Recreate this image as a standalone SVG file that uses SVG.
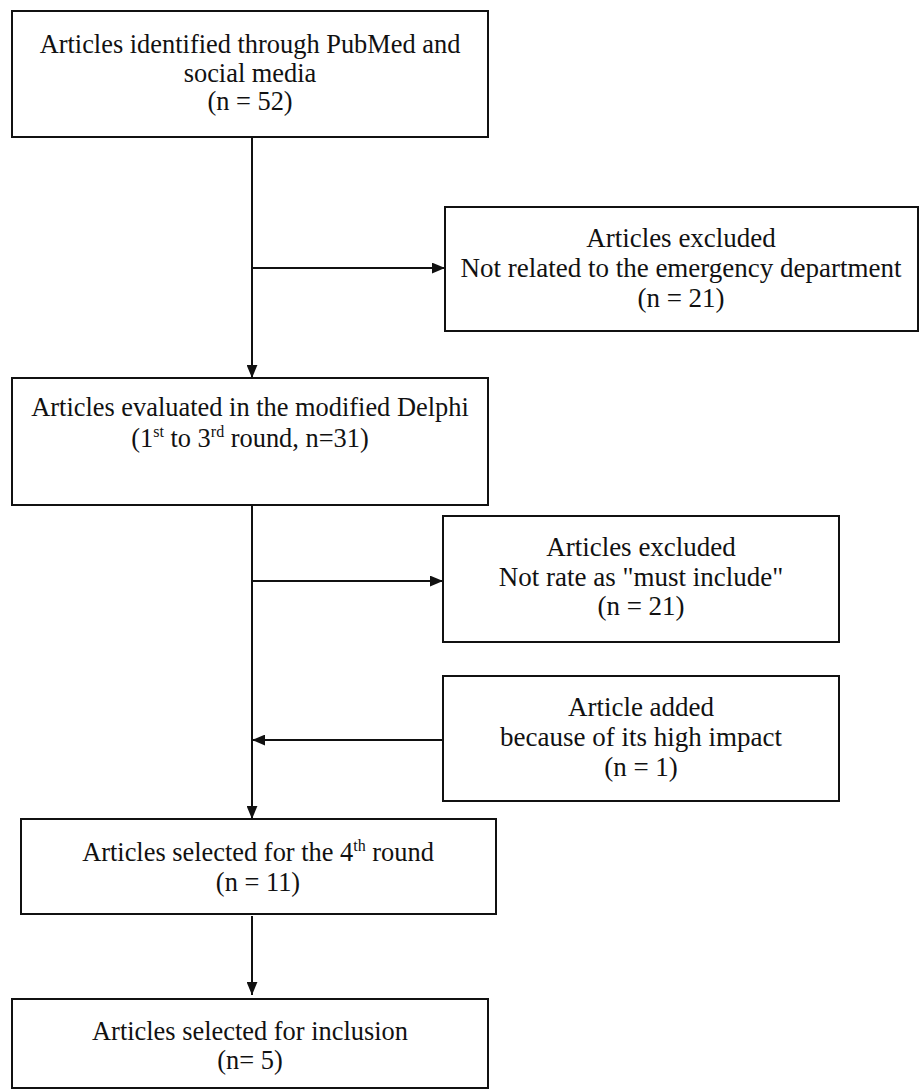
<svg xmlns="http://www.w3.org/2000/svg" width="919" height="1090" viewBox="0 0 919 1090">
<style>
.box{fill:#fff;stroke:#111;stroke-width:2}
.t{font-family:"Liberation Serif","Times New Roman",serif;font-size:27px;fill:#111;text-anchor:middle}
.l{font-size:26.4px}
.c{stroke:#111;stroke-width:2;fill:none}
.sup{font-size:16px}
</style>
<defs>
<marker id="ah" viewBox="0 0 12 10" refX="12" refY="5" markerWidth="13" markerHeight="11" markerUnits="userSpaceOnUse" orient="auto">
<path d="M0,0 L12,5 L0,10 Z" fill="#111"/>
</marker>
</defs>
<rect width="919" height="1090" fill="#fff"/>
<g id="connectors">
<line class="c" x1="252" y1="137" x2="252" y2="378" marker-end="url(#ah)"/>
<line class="c" x1="252" y1="268" x2="445" y2="268" marker-end="url(#ah)"/>
<line class="c" x1="252" y1="505" x2="252" y2="819" marker-end="url(#ah)"/>
<line class="c" x1="252" y1="581" x2="443" y2="581" marker-end="url(#ah)"/>
<line class="c" x1="443" y1="740" x2="252" y2="740" marker-end="url(#ah)"/>
<line class="c" x1="252" y1="916" x2="252" y2="995" marker-end="url(#ah)"/>
</g>
<g id="n1">
<rect class="box" x="12" y="11" width="476" height="126"/>
<text class="t l" x="250" y="53">Articles identified through PubMed and</text>
<text class="t l" x="250" y="82">social media</text>
<text class="t l" x="250" y="110">(n = 52)</text>
</g>
<g id="n2">
<rect class="box" x="445" y="207" width="473" height="124"/>
<text class="t" x="681" y="247">Articles excluded</text>
<text class="t" x="681" y="277">Not related to the emergency department</text>
<text class="t" x="681" y="307">(n = 21)</text>
</g>
<g id="n3">
<rect class="box" x="12" y="378" width="476" height="127"/>
<text class="t l" x="250" y="416">Articles evaluated in the modified Delphi</text>
<text class="t l" x="250" y="447">(1<tspan class="sup" dy="-10">st</tspan><tspan dy="10"> to 3</tspan><tspan class="sup" dy="-10">rd</tspan><tspan dy="10"> round, n=31)</tspan></text>
</g>
<g id="n4">
<rect class="box" x="443" y="516" width="396" height="126"/>
<text class="t" x="641" y="556">Articles excluded</text>
<text class="t" x="641" y="586">Not rate as "must include"</text>
<text class="t" x="641" y="615">(n = 21)</text>
</g>
<g id="n5">
<rect class="box" x="443" y="676" width="396" height="125"/>
<text class="t" x="641" y="716">Article added</text>
<text class="t" x="641" y="746">because of its high impact</text>
<text class="t" x="641" y="776">(n = 1)</text>
</g>
<g id="n6">
<rect class="box" x="21" y="819" width="475" height="95"/>
<text class="t l" x="258" y="861">Articles selected for the 4<tspan class="sup" dy="-10">th</tspan><tspan dy="10"> round</tspan></text>
<text class="t l" x="258" y="891">(n = 11)</text>
</g>
<g id="n7">
<rect class="box" x="12" y="999" width="476" height="89"/>
<text class="t l" x="250" y="1040">Articles selected for inclusion</text>
<text class="t l" x="250" y="1069">(n= 5)</text>
</g>
</svg>
